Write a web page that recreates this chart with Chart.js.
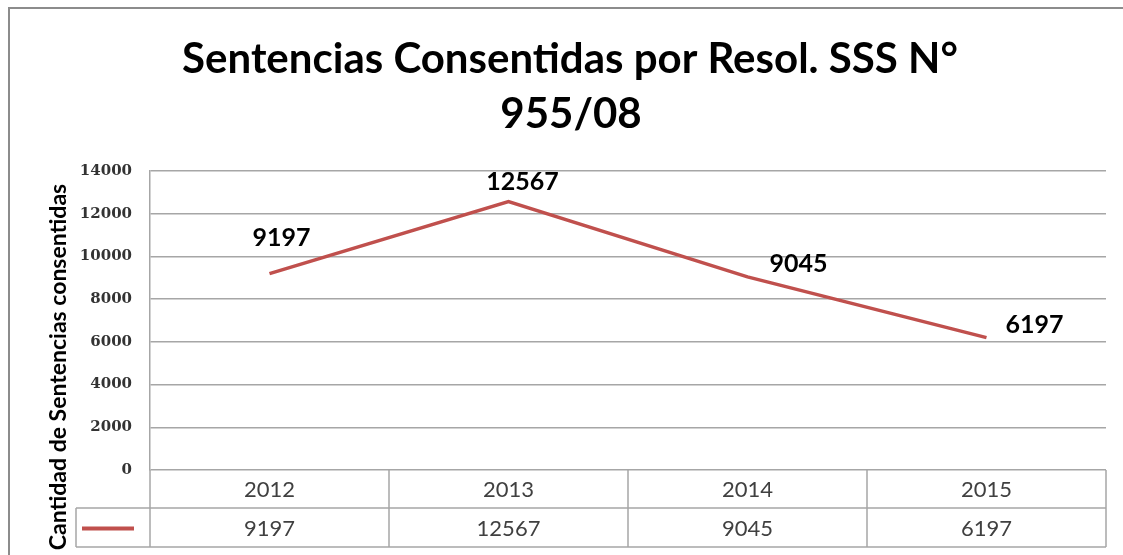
<!DOCTYPE html>
<html>
<head>
<meta charset="utf-8">
<script src="https://cdn.jsdelivr.net/npm/chart.js@4.4.1/dist/chart.umd.min.js"></script>
<style>
html,body{margin:0;padding:0;background:#fff;}
#wrap{position:relative;width:1123px;height:555px;}
</style>
</head>
<body>
<div id="wrap"><canvas id="c" width="1123" height="555"></canvas></div>
<script>
// ---- data ----
const categories = ['2012', '2013', '2014', '2015'];
const sentencias = [9197, 12567, 9045, 6197];
const yTicks = [0, 2000, 4000, 6000, 8000, 10000, 12000, 14000];
const titleLines = ['Sentencias Consentidas por Resol. SSS N°', '955/08'];
const yTitle = 'Cantidad de Sentencias consentidas';

// label offsets (style, not data)
const labelOffsets = [[12, -36], [14, -20], [51, -13], [48, -13]];

const RED = '#C0504D';
const GRID = '#A6A6A6';
const SANS = 'Lato, "Open Sans", sans-serif';

const decorPlugin = {
  id: 'decor',
  afterDraw(chart) {
    const ctx = chart.ctx;
    const area = chart.chartArea;
    const xs = chart.scales.x;
    ctx.save();
    // outer border
    ctx.strokeStyle = '#8C8C8C';
    ctx.lineWidth = 2;
    ctx.beginPath();
    ctx.moveTo(9, 560); ctx.lineTo(9, 8); ctx.lineTo(1130, 8);
    ctx.stroke();

    // title
    ctx.fillStyle = '#000';
    ctx.textAlign = 'center';
    ctx.textBaseline = 'alphabetic';
    ctx.font = 'bold 42px ' + SANS;
    ctx.fillText(titleLines[0], 570, 73);
    ctx.fillText(titleLines[1], 571, 128);

    // y title
    ctx.save();
    ctx.translate(66, 367);
    ctx.rotate(-Math.PI / 2);
    ctx.font = 'bold 23px ' + SANS;
    ctx.fillStyle = '#000';
    ctx.textAlign = 'center';
    ctx.textBaseline = 'alphabetic';
    ctx.fillText(yTitle, 0, 0);
    ctx.restore();

    // data table
    const y0 = area.bottom, y1 = y0 + 38, y2 = y1 + 39;
    const colW = (area.right - area.left) / categories.length;
    const legLeft = 76;
    ctx.strokeStyle = GRID;
    ctx.lineWidth = 1.5;
    ctx.beginPath();
    ctx.moveTo(legLeft, y1); ctx.lineTo(area.right, y1);
    ctx.moveTo(legLeft, y2); ctx.lineTo(area.right, y2);
    ctx.moveTo(legLeft, y1); ctx.lineTo(legLeft, y2);
    for (let i = 0; i <= categories.length; i++) {
      const x = area.left + i * colW;
      ctx.moveTo(x, y0); ctx.lineTo(x, y2);
    }
    ctx.stroke();

    ctx.fillStyle = '#404040';
    ctx.font = '22px ' + SANS;
    ctx.textAlign = 'center';
    ctx.textBaseline = 'middle';
    categories.forEach((c, i) => {
      const x = xs.getPixelForValue(i);
      ctx.fillText(c, x, (y0 + y1) / 2 + 1);
      ctx.fillText(String(sentencias[i]), x, (y1 + y2) / 2 + 1);
    });
    // legend key
    ctx.strokeStyle = RED;
    ctx.lineWidth = 4;
    ctx.beginPath();
    ctx.moveTo(82, (y1 + y2) / 2 + 1); ctx.lineTo(134, (y1 + y2) / 2 + 1);
    ctx.stroke();
    ctx.restore();
  },
  afterDatasetsDraw(chart) {
    const ctx = chart.ctx;
    const meta = chart.getDatasetMeta(0);
    ctx.save();
    ctx.font = 'bold 25px ' + SANS;
    ctx.fillStyle = '#000';
    ctx.textAlign = 'center';
    ctx.textBaseline = 'middle';
    meta.data.forEach((pt, i) => {
      const o = labelOffsets[i];
      ctx.fillText(String(sentencias[i]), pt.x + o[0], pt.y + o[1]);
    });
    ctx.restore();
  }
};

new Chart(document.getElementById('c'), {
  type: 'line',
  data: {
    labels: categories,
    datasets: [{
      label: 'Sentencias',
      data: sentencias,
      borderColor: RED,
      borderWidth: 3.5,
      pointRadius: 0,
      tension: 0,
      fill: false
    }]
  },
  options: {
    responsive: false,
    animation: false,
    layout: { padding: { left: 0, top: 171, right: 17, bottom: 85 } },
    plugins: {
      legend: { display: false },
      tooltip: { enabled: false },
      title: { display: false }
    },
    scales: {
      x: {
        type: 'category',
        offset: true,
        display: false
      },
      y: {
        min: 0,
        max: 14000,
        afterFit(scale) { scale.width = 150; },
        afterBuildTicks(scale) { scale.ticks = yTicks.map(v => ({ value: v })); },
        border: { display: true, color: GRID, width: 1.5 },
        grid: { color: GRID, lineWidth: 1.5, drawTicks: false },
        ticks: {
          padding: 18,
          color: '#333',
          font: { family: '"DejaVu Serif", serif', weight: 'bold', size: 15 },
          callback: (v) => String(v)
        }
      }
    }
  },
  plugins: [decorPlugin]
});
</script>
</body>
</html>
